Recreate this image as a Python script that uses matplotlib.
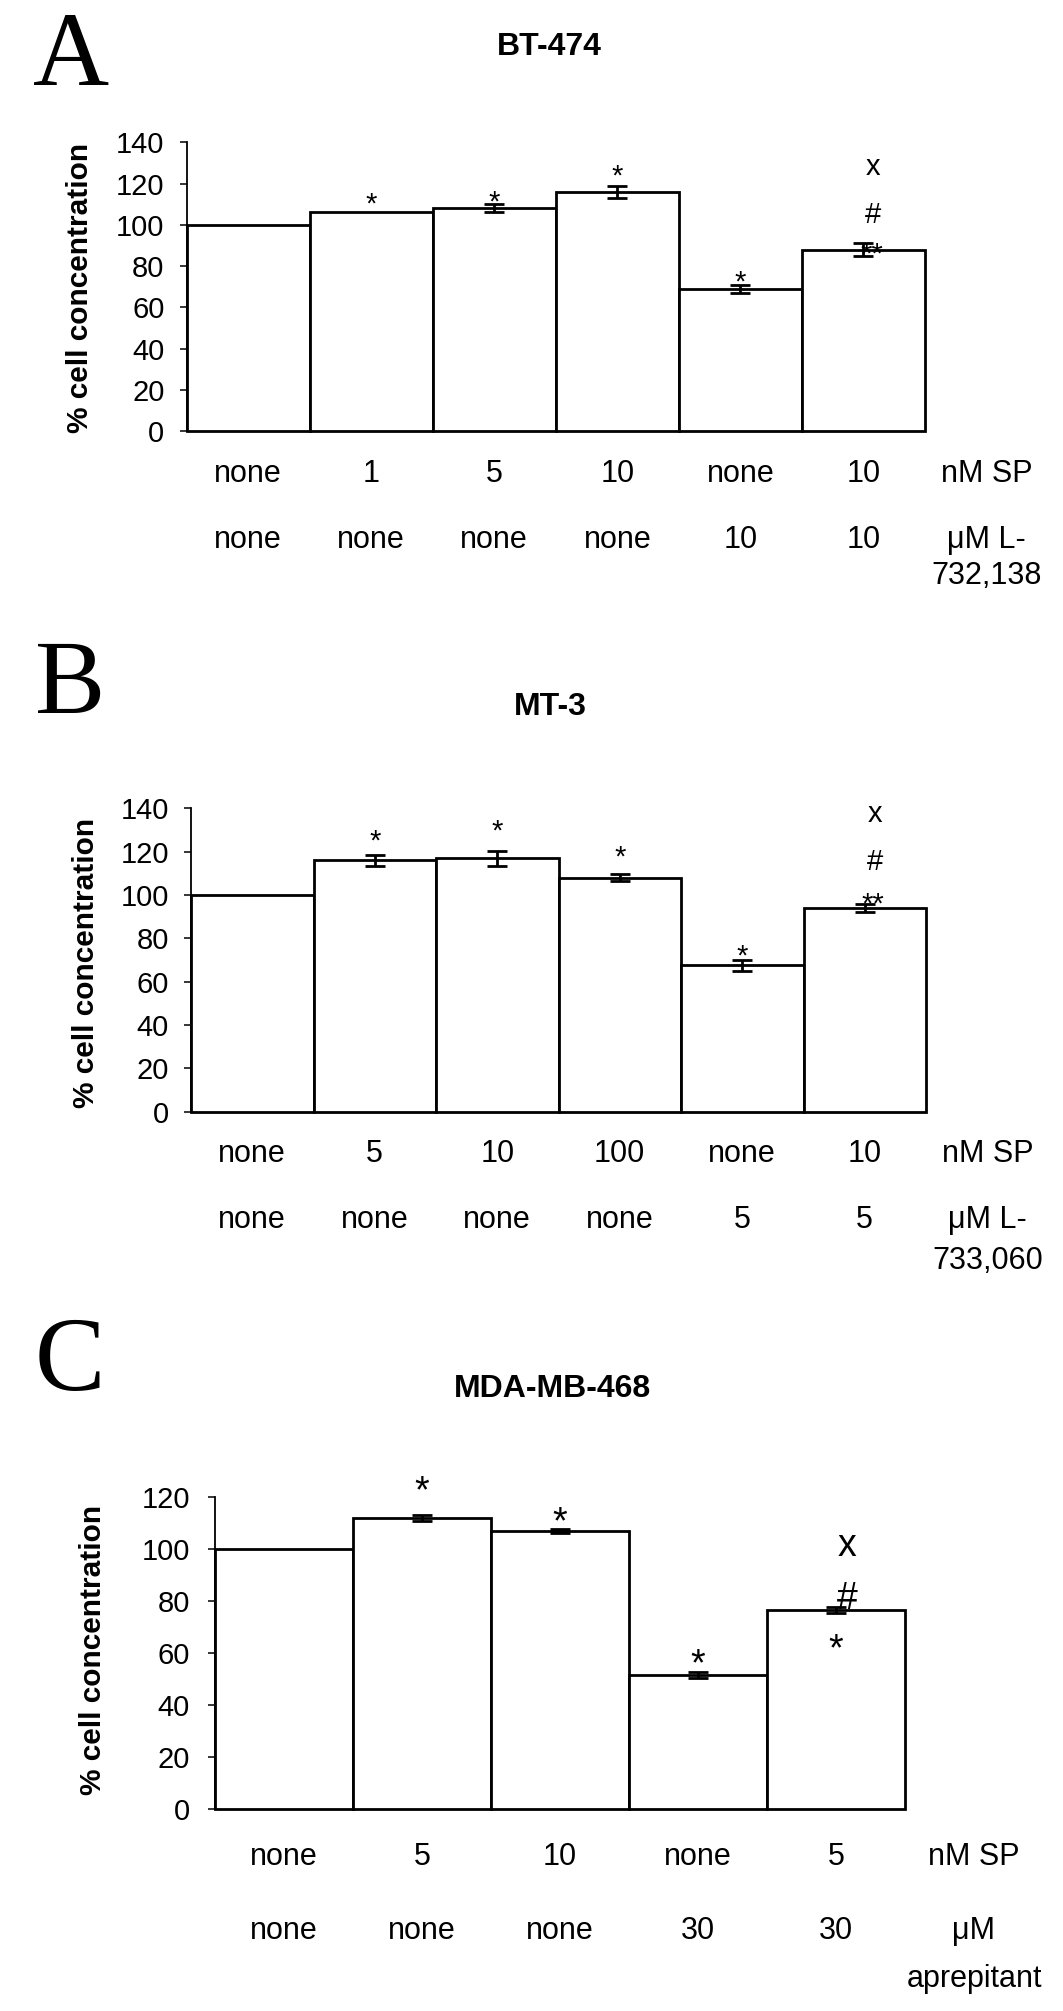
import matplotlib
matplotlib.use("Agg")
import matplotlib.pyplot as plt
from matplotlib import transforms

plt.rcParams['font.family'] = ['Liberation Sans', 'DejaVu Sans']

# ---------------- data ----------------
# Panel A : BT-474
a_values = [100, 106, 108, 116, 69, 88]
a_errors = [0, 0, 2, 3, 2, 3]
a_sp = ['none', '1', '5', '10', 'none', '10']
a_ant = ['none', 'none', 'none', 'none', '10', '10']
a_sp_unit = 'nM SP'
a_ant_unit = ['μM L-', '732,138']
a_marks = [(1, '*', 114.0), (2, '*', 115.0), (3, '*', 127.5), (4, '*', 76.5),
           (5, '**', 89.8), (5, '#', 105.9), (5, 'x', 127.9)]

# Panel B : MT-3
b_values = [100, 116, 117, 108, 67.5, 94]
b_errors = [0, 2.5, 3.5, 1.5, 2.5, 1.7]
b_sp = ['none', '5', '10', '100', 'none', '10']
b_ant = ['none', 'none', 'none', 'none', '5', '5']
b_sp_unit = 'nM SP'
b_ant_unit = ['μM L-', '733,060']
b_marks = [(1, '*', 128.6), (2, '*', 133.6), (3, '*', 121.3), (4, '*', 75.8),
           (5, '**', 99.6), (5, '#', 116.1), (5, 'x', 137.2)]

# Panel C : MDA-MB-468
c_values = [100, 111.8, 107, 51.5, 76.5]
c_errors = [0, 1.2, 0.8, 1.3, 1.0]
c_sp = ['none', '5', '10', 'none', '5']
c_ant = ['none', 'none', 'none', '30', '30']
c_sp_unit = 'nM SP'
c_ant_unit = ['μM', 'aprepitant']
c_marks = [(1, '*', 126.4), (2, '*', 114.3), (3, '*', 59.8), (4, '*', 65.6),
           (4, '#', 82.1), (4, 'x', 101.2)]

# ---------------- layout ----------------
W, H = 1063, 2011
fig = plt.figure(figsize=(W / 100, H / 100), dpi=100)

# glyph centre height above baseline (em) for annotation symbols
CENTER_EM = {'*': 0.58, '**': 0.58, '#': 0.35, 'x': 0.26}
DX = {'*': 0.0, '**': 0.07, '#': 0.08, 'x': 0.08}


def px_rect(l, r, top, bottom):
    return [l / W, 1 - bottom / H, (r - l) / W, (bottom - top) / H]


panels = [
    dict(letter='A', title='BT-474', rect=px_rect(186.7, 925, 142.3, 431), ymax=140,
         values=a_values, errors=a_errors, sp=a_sp, ant=a_ant, sp_unit=a_sp_unit,
         ant_unit=a_ant_unit, marks=a_marks, letter_xy=(33, 85), title_xy=(549, 55),
         ylabel_xy=(80, 288), rows=(-0.1767, -0.405, -0.530), mark_fs=21, tick_pad=11),
    dict(letter='B', title='MT-3', rect=px_rect(191, 926, 808.3, 1111.6), ymax=140,
         values=b_values, errors=b_errors, sp=b_sp, ant=b_ant, sp_unit=b_sp_unit,
         ant_unit=b_ant_unit, marks=b_marks, letter_xy=(35, 713), title_xy=(550, 715),
         ylabel_xy=(86.5, 963), rows=(-0.1649, -0.3838, -0.519), mark_fs=21, tick_pad=11),
    dict(letter='C', title='MDA-MB-468', rect=px_rect(215, 905, 1497, 1808.8), ymax=120,
         values=c_values, errors=c_errors, sp=c_sp, ant=c_ant, sp_unit=c_sp_unit,
         ant_unit=c_ant_unit, marks=c_marks, letter_xy=(35, 1390), title_xy=(552, 1397),
         ylabel_xy=(93, 1650), rows=(-0.179, -0.419, -0.573), mark_fs=27, tick_pad=13),
]

for p in panels:
    ax = fig.add_axes(p['rect'])
    n = len(p['values'])
    x = list(range(n))
    ax.bar(x, p['values'], width=1.0, color='white', edgecolor='black',
           linewidth=2.0, clip_on=False, zorder=2)
    ex = [xi for xi, e in zip(x, p['errors']) if e > 0]
    ev = [v for v, e in zip(p['values'], p['errors']) if e > 0]
    ee = [e for e in p['errors'] if e > 0]
    ax.errorbar(ex, ev, yerr=ee, fmt='none', ecolor='black', elinewidth=2.0,
                capsize=7.5, capthick=2.0, zorder=3, clip_on=False)

    ax.set_xlim(-0.5, n - 0.5)
    ax.set_ylim(0, p['ymax'])
    ax.set_yticks(range(0, p['ymax'] + 1, 20))
    ax.set_xticks([])
    ax.tick_params(axis='y', direction='out', length=5, width=1.1,
                   pad=p['tick_pad'], labelsize=21)
    for s in ['top', 'right', 'bottom']:
        ax.spines[s].set_visible(False)
    ax.spines['left'].set_linewidth(1.3)
    ax.patch.set_visible(False)

    # significance marks
    fs = p['mark_fs']
    for i, txt, yv in p['marks']:
        ax.annotate(txt, (i + DX[txt], yv), xytext=(0, -CENTER_EM[txt] * fs),
                    textcoords='offset points', ha='center', va='baseline',
                    fontsize=fs, annotation_clip=False, zorder=4)

    # treatment rows
    tr = transforms.blended_transform_factory(ax.transData, ax.transAxes)
    r1, r2, r3 = p['rows']
    for i in range(n):
        ax.text(i, r1, p['sp'][i], transform=tr, ha='center', va='baseline', fontsize=22)
        ax.text(i, r2, p['ant'][i], transform=tr, ha='center', va='baseline', fontsize=22)
    ax.text(n, r1, p['sp_unit'], transform=tr, ha='center', va='baseline', fontsize=22)
    ax.text(n, r2, p['ant_unit'][0], transform=tr, ha='center', va='baseline', fontsize=22)
    ax.text(n, r3, p['ant_unit'][1], transform=tr, ha='center', va='baseline', fontsize=22)

    # panel letter, title, y label
    lx, ly = p['letter_xy']
    fig.text(lx / W, 1 - ly / H, p['letter'], ha='left', va='baseline',
             fontsize=76, family=['Liberation Serif', 'DejaVu Serif'])
    tx, ty = p['title_xy']
    fig.text(tx / W, 1 - ty / H, p['title'], ha='center', va='baseline',
             fontsize=23, fontweight='bold')
    yx, yy = p['ylabel_xy']
    fig.text(yx / W, 1 - yy / H, '% cell concentration', ha='center', va='center',
             rotation=90, fontsize=21.5, fontweight='bold')

fig.savefig('out.png', dpi=100, facecolor='white')
